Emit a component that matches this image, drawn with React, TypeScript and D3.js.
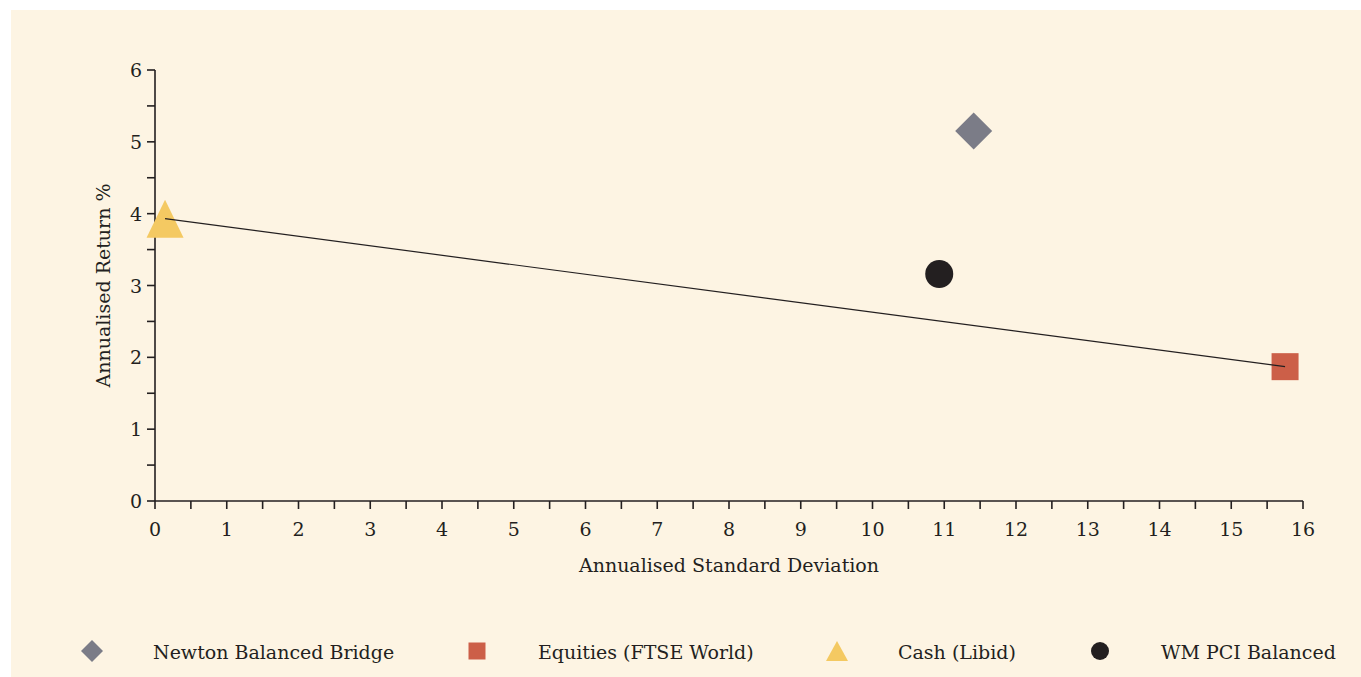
import React from 'react';
import * as d3 from 'd3';

// Risk / return points
const seriesNames = ['Newton Balanced Bridge', 'Equities (FTSE World)', 'Cash (Libid)', 'WM PCI Balanced'];
const stdDevs = [11.41, 15.75, 0.14, 10.93];
const returns = [5.15, 1.87, 3.93, 3.16];
const shapes = ['diamond', 'square', 'triangle', 'circle'];
const colors = ['#7b7c87', '#cc5f48', '#f4c962', '#231f20'];

const xTicks = d3.range(0, 17);
const yTicks = d3.range(0, 7);

const W = 1361;
const H = 677;
const FONT = '"DejaVu Serif", serif';
const INK = '#231f20';

const x = d3.scaleLinear().domain([0, 16]).range([155, 1303]);
const y = d3.scaleLinear().domain([0, 6]).range([501, 70]);

// w = marker width, h = marker height
function markerPath(shape: string, w: number, h: number) {
  if (shape === 'triangle') {
    const p = d3.path();
    p.moveTo(0, -h / 2);
    p.lineTo(w / 2, h / 2);
    p.lineTo(-w / 2, h / 2);
    p.closePath();
    return p.toString();
  }
  if (shape === 'diamond') {
    const p = d3.path();
    p.moveTo(0, -h / 2);
    p.lineTo(w / 2, 0);
    p.lineTo(0, h / 2);
    p.lineTo(-w / 2, 0);
    p.closePath();
    return p.toString();
  }
  if (shape === 'square') {
    const p = d3.path();
    p.rect(-w / 2, -h / 2, w, h);
    return p.toString();
  }
  return d3.symbol().type(d3.symbolCircle).size(Math.PI * (w / 2) * (w / 2))() || '';
}

const plotSizes: Record<string, [number, number]> = {
  diamond: [37, 37], square: [27, 27], triangle: [37, 38], circle: [28, 28],
};
const legendSizes: Record<string, [number, number]> = {
  diamond: [22, 22], square: [17, 17], triangle: [22, 20], circle: [18, 18],
};

const legendX = [92, 477, 837, 1100];
const legendTextX = [153, 538, 898, 1161];

const App: React.FC = () => {
  const cashIdx = 2;
  const eqIdx = 1;
  return (
    <svg width={W} height={H} style={{ position: 'absolute', left: 0, top: 0 }}>
      <rect x={0} y={0} width={W} height={H} fill="#ffffff" />
      <rect x={11} y={10} width={W - 11} height={H - 10} fill="#fdf4e3" />

      {/* axes */}
      <g stroke={INK} strokeWidth={1.6} fill="none">
        <line x1={x(0)} x2={x(16)} y1={y(0)} y2={y(0)} />
        <line x1={x(0)} x2={x(0)} y1={y(0)} y2={y(6)} />
        {d3.range(0, 16.01, 0.5).map(t => (
          <line key={'xt' + t} x1={x(t)} x2={x(t)} y1={y(0)} y2={y(0) + 8} />
        ))}
        {d3.range(0, 6.01, 0.5).map(t => (
          <line key={'yt' + t} x1={x(0) - 8} x2={x(0)} y1={y(t)} y2={y(t)} />
        ))}
      </g>

      <g fontFamily={FONT} fontSize={19} fill={INK}>
        {xTicks.map(t => (
          <text key={'xl' + t} x={x(t)} y={y(0) + 35} textAnchor="middle">{t}</text>
        ))}
        {yTicks.map(t => (
          <text key={'yl' + t} x={x(0) - 13} y={y(t) + 7} textAnchor="end">{t}</text>
        ))}
        <text x={(x(0) + x(16)) / 2} y={572} textAnchor="middle">Annualised Standard Deviation</text>
        <text
          transform={`translate(110,${(y(0) + y(6)) / 2}) rotate(-90)`}
          textAnchor="middle"
        >Annualised Return %</text>
      </g>

      {/* markers */}
      {seriesNames.map((n, i) => {
        const [w, h] = plotSizes[shapes[i]];
        return (
          <path
            key={n}
            d={markerPath(shapes[i], w, h)}
            transform={`translate(${x(stdDevs[i])},${y(returns[i])})`}
            fill={colors[i]}
          />
        );
      })}

      <line
        x1={x(stdDevs[cashIdx])}
        y1={y(returns[cashIdx])}
        x2={x(stdDevs[eqIdx])}
        y2={y(returns[eqIdx])}
        stroke={INK}
        strokeWidth={1.2}
      />

      {/* legend */}
      {seriesNames.map((n, i) => {
        const [w, h] = legendSizes[shapes[i]];
        return (
          <g key={'lg' + n}>
            <path
              d={markerPath(shapes[i], w, h)}
              transform={`translate(${legendX[i]},651)`}
              fill={colors[i]}
            />
            <text x={legendTextX[i]} y={659} fontFamily={FONT} fontSize={19} fill={INK}>{n}</text>
          </g>
        );
      })}
    </svg>
  );
};

export default App;
